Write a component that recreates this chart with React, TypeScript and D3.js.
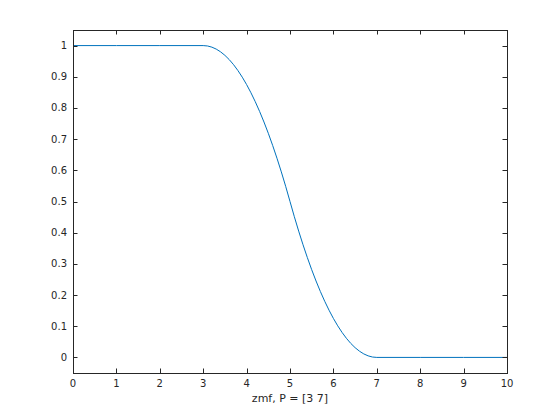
import React from "react";
import * as d3 from "d3";

const xValues = [0, 1, 2, 3.0, 3.1, 3.2, 3.3, 3.4, 3.5, 3.6, 3.7, 3.8, 3.9, 4.0, 4.1, 4.2, 4.3, 4.4, 4.5, 4.6, 4.7, 4.8, 4.9, 5.0,
  5.1, 5.2, 5.3, 5.4, 5.5, 5.6, 5.7, 5.8, 5.9, 6.0, 6.1, 6.2, 6.3, 6.4, 6.5, 6.6, 6.7, 6.8, 6.9, 7.0, 8, 9, 10];
const yValues = [1, 1, 1, 1, 0.99875, 0.995, 0.98875, 0.98, 0.96875, 0.955, 0.93875, 0.92, 0.89875, 0.875, 0.84875, 0.82, 0.78875, 0.755, 0.71875, 0.68, 0.63875, 0.595, 0.54875, 0.5,
  0.45125, 0.405, 0.36125, 0.32, 0.28125, 0.245, 0.21125, 0.18, 0.15125, 0.125, 0.10125, 0.08, 0.06125, 0.045, 0.03125, 0.02, 0.01125, 0.005, 0.00125, 0, 0, 0, 0];
const xTicks = [0, 1, 2, 3, 4, 5, 6, 7, 8, 9, 10];
const yTicks = [0, 0.1, 0.2, 0.3, 0.4, 0.5, 0.6, 0.7, 0.8, 0.9, 1];
const xLabel = "zmf, P = [3 7]";

export default function App() {
  const W = 560, H = 420;
  const left = 73, right = 507, top = 30, bottom = 373;
  const x = d3.scaleLinear().domain([0, 10]).range([left, right]);
  const y = d3.scaleLinear().domain([-0.05, 1.05]).range([bottom, top]);
  const line = d3.line<number>().x((_, i) => x(xValues[i])).y((d) => y(d));
  const axisColor = "#262626";
  const font = "DejaVu Sans, sans-serif";
  const tl = 4.5;
  return (
    <svg width={W} height={H} style={{ position: "absolute", left: 0, top: 0, background: "#fff" }}>
      <rect x={0} y={0} width={W} height={H} fill="#fff" />
      <path d={line(yValues) || ""} fill="none" stroke="#0072BD" strokeWidth={1} />
      <rect x={left + 0.5} y={top + 0.5} width={right - left} height={bottom - top} fill="none" stroke={axisColor} strokeWidth={1} />
      {xTicks.map((t) => (
        <g key={"x" + t}>
          <line x1={Math.round(x(t)) + 0.5} x2={Math.round(x(t)) + 0.5} y1={bottom} y2={bottom - tl} stroke={axisColor} />
          <line x1={Math.round(x(t)) + 0.5} x2={Math.round(x(t)) + 0.5} y1={top} y2={top + tl} stroke={axisColor} />
          <text x={x(t)} y={387} textAnchor="middle" fontFamily={font} fontSize={10} fill={axisColor}>{t}</text>
        </g>
      ))}
      {yTicks.map((t) => (
        <g key={"y" + t}>
          <line x1={left} x2={left + tl} y1={Math.round(y(t)) + 0.5} y2={Math.round(y(t)) + 0.5} stroke={axisColor} />
          <line x1={right} x2={right - tl} y1={Math.round(y(t)) + 0.5} y2={Math.round(y(t)) + 0.5} stroke={axisColor} />
          <text x={left - 6} y={y(t) + 3.5} textAnchor="end" fontFamily={font} fontSize={10} fill={axisColor}>{t}</text>
        </g>
      ))}
      <text x={(left + right) / 2} y={402} textAnchor="middle" fontFamily={font} fontSize={11} fill={axisColor}>{xLabel}</text>
    </svg>
  );
}
